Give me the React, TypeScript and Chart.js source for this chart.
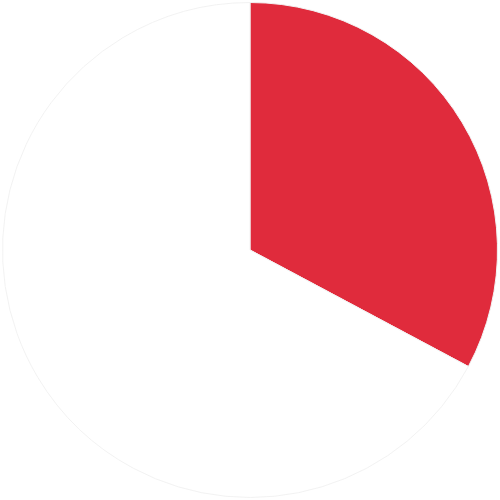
import { useEffect, useRef } from "react"
import { Chart, registerables } from "chart.js"

Chart.register(...registerables)

const labels = ["Share", "Rest"]
const values = [32.8, 67.2]
const colors = ["#e02b3c", "#ffffff"]

export default function App() {
  const chartRef = useRef<HTMLCanvasElement>(null)
  const chartInstance = useRef<Chart | null>(null)

  useEffect(() => {
    document.body.style.margin = "0"
    if (!chartRef.current) return
    if (chartInstance.current) chartInstance.current.destroy()
    const ctx = chartRef.current.getContext("2d")
    if (!ctx) return

    chartInstance.current = new Chart(ctx, {
      type: "pie",
      data: {
        labels,
        datasets: [
          {
            data: values,
            backgroundColor: colors,
            borderColor: "#f2f2f2",
            borderWidth: 1,
          },
        ],
      },
      options: {
        animation: false,
        responsive: true,
        maintainAspectRatio: false,
        layout: { padding: 2 },
        plugins: {
          legend: { display: false },
          tooltip: { enabled: false },
        },
      },
    })

    return () => {
      if (chartInstance.current) {
        chartInstance.current.destroy()
        chartInstance.current = null
      }
    }
  }, [])

  return (
    <div style={{ width: 500, height: 500, position: "relative" }}>
      <canvas ref={chartRef}></canvas>
    </div>
  )
}
